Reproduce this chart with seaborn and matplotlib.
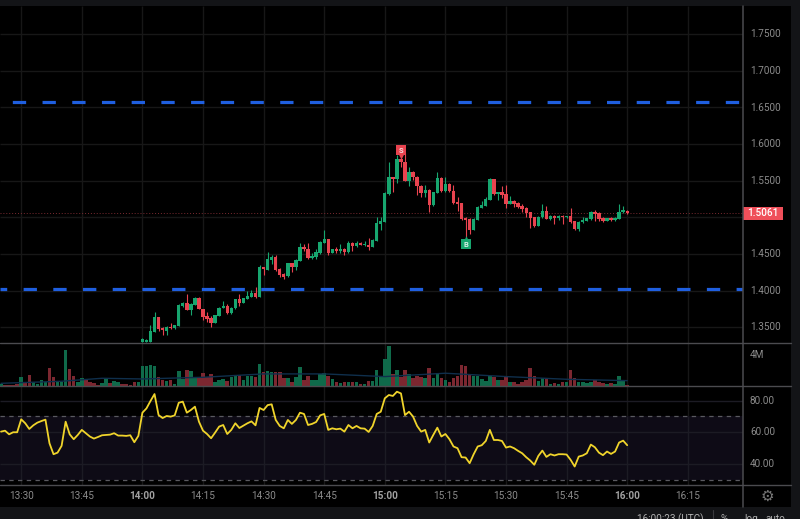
import numpy as np
import pandas as pd
import matplotlib.pyplot as plt
from matplotlib.patches import Rectangle
import seaborn as sns

# candles, one per minute from 14:00 to 16:00
opens = [1.3302,1.3302,1.3302,1.3439,1.3643,1.3484,1.3452,1.3507,1.3489,1.3516,
         1.3789,1.3835,1.3735,1.3803,1.3903,1.3753,1.3648,1.3625,1.3562,1.3648,
         1.3757,1.3789,1.3689,1.3757,1.3885,1.3825,1.3880,1.3917,1.3963,1.3907,
         1.4317,1.4280,1.4417,1.4453,1.4294,1.4221,1.4199,1.4371,1.4317,1.4408,
         1.4590,1.4572,1.4440,1.4463,1.4508,1.4654,1.4699,1.4517,1.4563,1.4540,
         1.4563,1.4522,1.4654,1.4608,1.4654,1.4617,1.4622,1.4590,1.4680,1.4903,
         1.4939,1.5317,1.5544,1.5517,1.5795,1.5758,1.5499,1.5622,1.5554,1.5431,
         1.5335,1.5372,1.5167,1.5335,1.5535,1.5358,1.5453,1.5362,1.5208,1.5190,
         1.4994,1.4976,1.4826,1.4962,1.5130,1.5158,1.5240,1.5517,1.5312,1.5340,
         1.5317,1.5185,1.5221,1.5194,1.5153,1.5121,1.5067,1.5003,1.4880,1.4998,
         1.5085,1.4976,1.5021,1.4985,1.5017,1.4998,1.5012,1.4944,1.4835,1.4930,
         1.4948,1.4971,1.5076,1.5053,1.4985,1.4948,1.4994,1.4958,1.4976,1.5071,
         1.5090]
highs = [1.3348,1.3334,1.3530,1.3712,1.3643,1.3498,1.3516,1.3562,1.3525,1.3816,
         1.3848,1.3953,1.3825,1.3907,1.3907,1.3753,1.3712,1.3653,1.3671,1.3771,
         1.3862,1.3816,1.3771,1.3889,1.3953,1.3894,1.3998,1.4007,1.4044,1.4349,
         1.4317,1.4531,1.4485,1.4485,1.4303,1.4235,1.4381,1.4381,1.4426,1.4645,
         1.4635,1.4645,1.4508,1.4563,1.4681,1.4826,1.4699,1.4572,1.4599,1.4635,
         1.4576,1.4672,1.4663,1.4681,1.4663,1.4681,1.4713,1.4699,1.4998,1.4998,
         1.5349,1.5758,1.5544,1.5849,1.5872,1.5872,1.5690,1.5635,1.5563,1.5440,
         1.5440,1.5381,1.5349,1.5622,1.5544,1.5554,1.5462,1.5440,1.5281,1.5199,
         1.5008,1.4985,1.4985,1.5153,1.5226,1.5281,1.5531,1.5526,1.5349,1.5426,
         1.5440,1.5290,1.5235,1.5212,1.5180,1.5144,1.5076,1.5008,1.5017,1.5180,
         1.5153,1.5030,1.5030,1.5026,1.5026,1.5017,1.5121,1.4953,1.4948,1.4998,
         1.4994,1.5085,1.5099,1.5067,1.4998,1.4994,1.5003,1.4998,1.5176,1.5153,
         1.5099]
lows = [1.3302,1.3302,1.3302,1.3439,1.3452,1.3389,1.3389,1.3480,1.3480,1.3516,
        1.3771,1.3735,1.3671,1.3803,1.3744,1.3598,1.3575,1.3507,1.3562,1.3648,
        1.3757,1.3680,1.3680,1.3753,1.3789,1.3825,1.3880,1.3907,1.3898,1.3907,
        1.4212,1.4280,1.4362,1.4271,1.4190,1.4153,1.4190,1.4258,1.4280,1.4408,
        1.4544,1.4426,1.4426,1.4426,1.4499,1.4645,1.4481,1.4508,1.4508,1.4517,
        1.4481,1.4517,1.4535,1.4599,1.4617,1.4608,1.4553,1.4590,1.4680,1.4825,
        1.4939,1.5303,1.5349,1.5462,1.5690,1.5499,1.5426,1.5508,1.5303,1.5281,
        1.5281,1.5076,1.5158,1.5326,1.5349,1.5349,1.5349,1.5180,1.5080,1.4962,
        1.4734,1.4771,1.4826,1.4962,1.5121,1.5153,1.5235,1.5303,1.5235,1.5258,
        1.5121,1.5180,1.5144,1.5130,1.5076,1.4998,1.4853,1.4871,1.4880,1.4994,
        1.4971,1.4962,1.4907,1.4962,1.4907,1.4994,1.4926,1.4825,1.4816,1.4917,
        1.4944,1.4962,1.4948,1.4953,1.4930,1.4944,1.4948,1.4953,1.4971,1.5062,
        1.5044]
closes = [1.3334,1.3325,1.3448,1.3643,1.3471,1.3457,1.3507,1.3489,1.3525,1.3798,
          1.3835,1.3735,1.3816,1.3903,1.3744,1.3639,1.3612,1.3562,1.3666,1.3766,
          1.3789,1.3689,1.3766,1.3885,1.3825,1.3894,1.3926,1.3963,1.3907,1.4317,
          1.4290,1.4426,1.4453,1.4280,1.4212,1.4190,1.4371,1.4317,1.4417,1.4590,
          1.4563,1.4440,1.4476,1.4522,1.4663,1.4699,1.4517,1.4563,1.4540,1.4563,
          1.4522,1.4654,1.4608,1.4654,1.4626,1.4635,1.4590,1.4690,1.4917,1.4948,
          1.5326,1.5544,1.5517,1.5795,1.5758,1.5499,1.5622,1.5554,1.5426,1.5335,
          1.5372,1.5167,1.5340,1.5535,1.5358,1.5453,1.5362,1.5190,1.5180,1.4971,
          1.4962,1.4826,1.4976,1.5144,1.5167,1.5249,1.5517,1.5312,1.5340,1.5308,
          1.5185,1.5221,1.5185,1.5144,1.5112,1.5053,1.4994,1.4880,1.5008,1.5085,
          1.4980,1.5021,1.4985,1.5017,1.4998,1.5012,1.4930,1.4835,1.4939,1.4962,
          1.4985,1.5076,1.5044,1.4976,1.4944,1.4985,1.4958,1.4989,1.5076,1.5094,
          1.5061]

# volume in millions, the first block is before 14:00
vol_before = [.26,.13,.09,.13,.17,1.18,.52,1.40,.52,.26,.79,.52,2.32,1.18,.52,.52,4.59,2.19,1.31,.52,
              .96,.87,.52,.39,.13,.35,1.05,.35,.61,.52,.17,.26,.13,.48,.48]
vol_before_up = [1,0,0,0,0,1,0,0,1,1,1,1,0,0,1,1,1,0,0,1,1,0,0,0,0,1,1,0,1,1,0,0,0,0,1]
vol_after = [2.53,2.53,2.71,2.53,1.09,.79,.66,.79,.26,1.92,.87,2.01,1.92,.96,1.18,1.66,1.09,1.57,.44,.79,
             .87,.61,1.18,1.40,1.40,.79,1.22,1.22,1.18,2.84,1.75,1.97,1.84,1.84,1.75,1.05,1.05,.44,1.14,2.45,
             .70,1.22,.79,.70,1.49,1.66,1.31,.87,.52,.35,.52,.44,.52,.52,.26,.17,.61,.61,2.10,1.14,
             3.50,5.24,1.49,2.10,1.14,2.10,1.57,1.05,1.22,1.14,1.05,2.36,.96,1.66,1.05,.79,.44,1.05,1.22,2.71,
             2.62,1.49,1.22,1.22,.87,.61,1.31,1.14,.70,.79,1.22,.52,.44,.26,.52,.79,2.36,1.22,.61,.96,
             1.05,.26,.35,.17,.52,.44,2.01,.96,.52,.44,.35,.44,.79,.52,.35,.17,.35,.22,1.22,.70,.13]
ma_minutes = [-35,-20,-10,0,15,30,45,60,75,90,105,120]
ma_values = [.30,.57,.96,.87,1.09,1.53,1.53,1.18,1.62,1.18,.83,.65]

# rsi, starts 35 minutes before 14:00
rsi_values = [60.4,61.0,58.7,60.0,60.0,68.2,65.7,62.1,64.4,66.1,67.1,68.0,53.0,46.1,47.1,51.4,66.7,58.7,55.6,58.3,
              61.5,59.4,57.3,56.0,57.0,58.1,58.3,58.5,59.4,57.9,57.9,57.7,58.1,53.7,57.7,
              72.4,75.1,79.8,84.2,70.9,69.0,70.3,69.9,70.7,78.7,79.4,72.4,74.1,76.2,66.7,61.0,58.9,56.2,59.8,63.6,
              64.6,58.9,61.5,65.7,62.7,64.2,65.7,66.9,64.4,75.4,74.1,77.2,77.7,67.8,64.0,62.5,67.8,65.3,67.8,72.4,
              71.6,64.6,65.3,66.5,70.7,71.6,61.5,62.5,61.9,62.3,60.4,64.6,62.5,64.0,62.5,62.3,60.2,64.0,71.6,73.0,
              81.5,83.6,83.0,85.7,84.6,70.9,73.0,69.9,64.0,60.4,61.5,53.5,58.3,62.9,57.3,58.9,55.6,51.0,49.9,44.2,
              44.0,40.4,46.1,51.0,51.8,54.5,61.5,55.1,55.1,54.5,50.3,51.0,49.9,48.2,46.7,44.2,42.1,39.4,45.0,48.4,
              44.4,46.1,45.3,46.1,46.1,45.9,42.5,38.3,44.6,45.3,46.7,52.2,50.5,47.1,45.5,47.8,46.3,47.8,53.5,54.7,51.8]

price_ticks = [1.35,1.40,1.45,1.50,1.55,1.60,1.65,1.70,1.75]
rsi_ticks = [40,60,80]
time_minutes = [-30,-15,0,15,30,45,60,75,90,105,120,135]
time_labels = ["13:30","13:45","14:00","14:15","14:30","14:45","15:00","15:15","15:30","15:45","16:00","16:15"]
bold_labels = ["14:00","15:00","16:00"]
upper_level = 1.6575
lower_level = 1.402
last_price = 1.5061
sell_signal = (64, 1.5912)
buy_signal = (80, 1.4628)

BG = "#000000"
STRIP = "#131417"
GRID = "#171717"
SEP = "#4b4b4f"
TXT = "#8b8b8b"
GREEN = "#17a66f"
RED = "#e8434f"
VOL_GREEN = "#0f6a4a"
VOL_RED = "#7c2730"
BLUE = "#1f5fe0"

W, H = 800, 519
X0 = -142.4 / 4.04
X1 = (743 - 142.4) / 4.04

sns.set_theme(style="dark")
plt.rcParams["font.family"] = ["Roboto", "DejaVu Sans"]

fig = plt.figure(figsize=(W / 100, H / 100), dpi=100, facecolor=STRIP)


def pane(top, bottom):
    a = fig.add_axes([0, 1 - bottom / H, 743 / W, (bottom - top) / H])
    a.set_facecolor(BG)
    a.set_xlim(X0, X1)
    a.grid(False)
    for s in a.spines.values():
        s.set_visible(False)
    a.set_xticks([])
    a.set_yticks([])
    a.vlines(time_minutes, 0, 1, transform=a.get_xaxis_transform(), color=GRID, lw=1, zorder=0)
    return a


# black backing of the right and bottom scales
back = fig.add_axes([0, 1 - 507 / H, 791 / W, 501 / H])
back.set_facecolor(BG)
back.set_xticks([])
back.set_yticks([])
for s in back.spines.values():
    s.set_visible(False)

ax = pane(6, 343)
vol = pane(343, 386)
rsi = pane(386, 485)

# main pane
candles = pd.DataFrame({"minute": np.arange(len(opens)), "open": opens, "high": highs, "low": lows, "close": closes})
candles["color"] = np.where(candles["close"] >= candles["open"], GREEN, RED)
ax.set_ylim(1.3284, 1.7882)
ax.hlines(price_ticks, X0, X1, color=GRID, lw=1, zorder=0)
ax.vlines(candles["minute"], candles["low"], candles["high"], color=candles["color"], lw=0.8, zorder=3)
ax.bar(candles["minute"], candles["close"] - candles["open"], bottom=candles["open"], width=0.84,
       color=candles["color"], linewidth=0, zorder=4)
ax.axhline(last_price, color="#7a2a30", lw=0.7, ls=(0, (1, 2)), zorder=2)
ax.axhline(upper_level, color=BLUE, lw=2.3, ls=(5.44, (4.17, 5.13)), zorder=5)
ax.axhline(lower_level, color=BLUE, lw=2.3, ls=(2.07, (4.17, 5.13)), zorder=5)

ax.scatter([sell_signal[0]], [sell_signal[1]], marker="s", s=42, color=RED, linewidth=0, zorder=6)
ax.scatter([sell_signal[0]], [sell_signal[1] - 0.0075], marker="v", s=22, color=RED, linewidth=0, zorder=6)
ax.text(sell_signal[0], sell_signal[1], "S", color="#f4d6d8", fontsize=5.5, fontweight="bold", ha="center", va="center", zorder=7)
ax.scatter([buy_signal[0]], [buy_signal[1]], marker="s", s=42, color=GREEN, linewidth=0, zorder=6)
ax.scatter([buy_signal[0]], [buy_signal[1] + 0.0075], marker="^", s=22, color=GREEN, linewidth=0, zorder=6)
ax.text(buy_signal[0], buy_signal[1], "B", color="#d8f0e6", fontsize=5.5, fontweight="bold", ha="center", va="center", zorder=7)

# volume pane
vol.set_ylim(-0.05, 5.57)
vol_colors = [VOL_GREEN if u else VOL_RED for u in vol_before_up] + \
             [VOL_GREEN if c == GREEN else VOL_RED for c in candles["color"]]
vol_df = pd.DataFrame({"minute": np.arange(-35, len(opens)), "volume": vol_before + vol_after})
vol.bar(vol_df["minute"], vol_df["volume"], width=0.88, color=vol_colors, linewidth=0, zorder=2)
sns.lineplot(x=ma_minutes, y=ma_values, ax=vol, color="#0f2f4c", lw=1, zorder=3, legend=False)
vol.set_xlim(X0, X1)
vol.set_xlabel("")
vol.set_ylabel("")

# rsi pane
rsi.set_ylim(26.6, 89.3)
rsi.axhspan(30, 70, color="#0e0b16", lw=0, zorder=0)
rsi.vlines(time_minutes, 30, 70, color="#1c1b24", lw=1, zorder=1)
rsi.hlines(rsi_ticks, X0, X1, color="#1c1b24", lw=1, zorder=1)
rsi.axhline(70, color="#5a5a60", lw=0.9, ls=(0, (3.5, 3.5)), zorder=2)
rsi.axhline(30, color="#5a5a60", lw=0.9, ls=(0, (3.5, 3.5)), zorder=2)
rsi_df = pd.DataFrame({"minute": np.arange(-35, len(opens)), "rsi": rsi_values})
sns.lineplot(data=rsi_df, x="minute", y="rsi", ax=rsi, color="#f0d42b", lw=1.3, zorder=4, legend=False)
rsi.set_xlim(X0, X1)
rsi.set_xlabel("")
rsi.set_ylabel("")

# separators
over = fig.add_axes([0, 0, 1, 1], facecolor="none")
over.set_xlim(0, W)
over.set_ylim(H, 0)
over.axis("off")
over.plot([0, 791], [343, 343], color=SEP, lw=1)
over.plot([0, 791], [385.5, 385.5], color=SEP, lw=1)
over.plot([0, 791], [485.3, 485.3], color=SEP, lw=1)
over.plot([743, 743], [6, 507], color=SEP, lw=1.1)
over.plot([713, 713], [510, 519], color="#3a3a3e", lw=0.8)

# scale labels, the 1.5000 label sits behind the last price tag
for p in price_ticks:
    if p == 1.50:
        continue
    y = 217.3 - (p - 1.5) * 732
    over.text(750, y, f"{p:.4f}", color=TXT, fontsize=7.2, va="center", ha="left")
for v in rsi_ticks:
    over.text(750, 400.7 + (80 - v) * 1.58, f"{v:.2f}", color=TXT, fontsize=7.2, va="center", ha="left")
over.text(750, 354.7, "4M", color=TXT, fontsize=7.2, va="center", ha="left")
for m, lab in zip(time_minutes, time_labels):
    over.text(142.4 + 4.04 * m, 496, lab, color="#a0a0a0" if lab in bold_labels else TXT, fontsize=7.2,
              fontweight="bold" if lab in bold_labels else "normal", ha="center", va="center")
over.add_patch(Rectangle((743, 207), 40, 13, fc="#ef4f5a", ec="none"))
over.text(763, 213.5, "1.5061", color="white", fontsize=7.2, va="center", ha="center", fontweight="medium")
over.text(767, 496, "\u2699", color="#777777", fontsize=11, ha="center", va="center", family=["DejaVu Sans"])

# bottom strip runs off the picture
over.text(670, 519.5, "16:00:23 (UTC)", color="#b0b0b0", fontsize=7.2, ha="center", va="center", clip_on=True)
over.text(724, 519.5, "%", color="#b0b0b0", fontsize=7.2, ha="center", va="center", clip_on=True)
over.text(744, 519.5, "log", color="#b0b0b0", fontsize=7.2, ha="left", va="center", clip_on=True)
over.text(765, 519.5, "auto", color="#b0b0b0", fontsize=7.2, ha="left", va="center", clip_on=True)

fig.savefig("out.png", dpi=100, facecolor=fig.get_facecolor())
